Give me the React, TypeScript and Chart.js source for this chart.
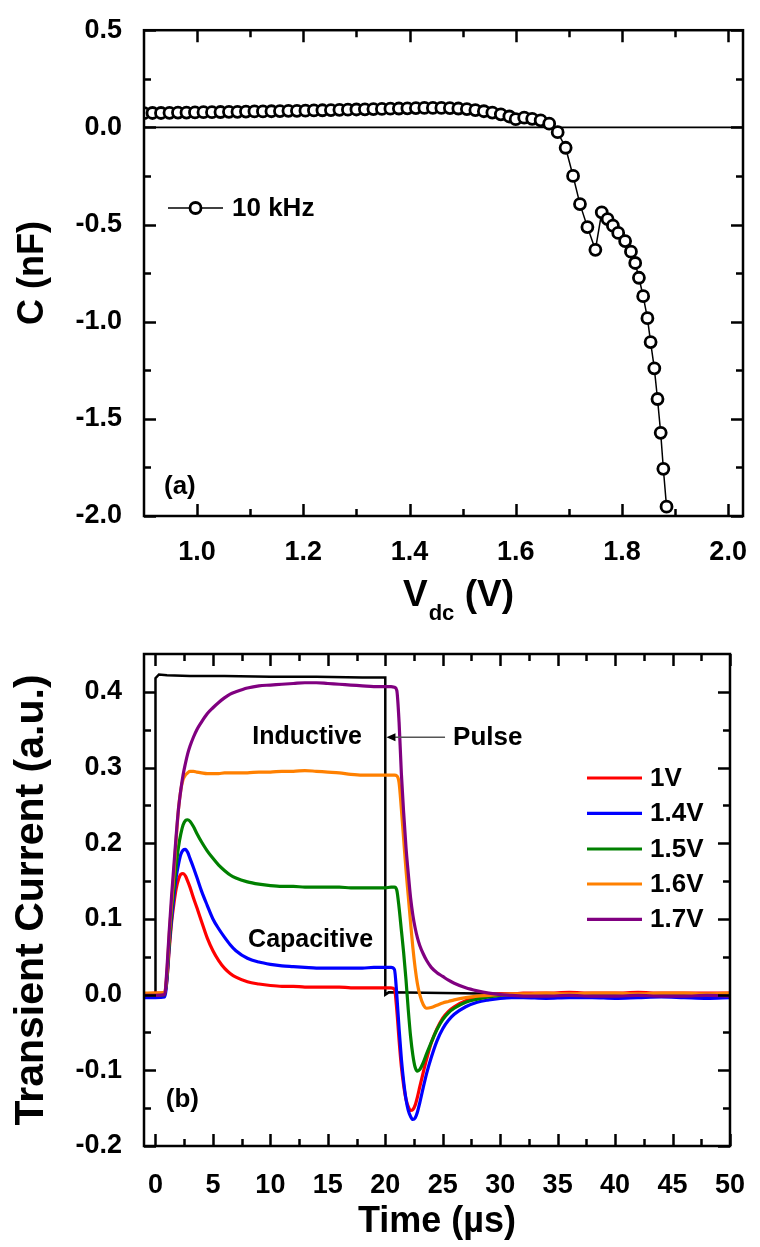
import React, { useEffect, useRef } from 'react';
import { Chart, registerables } from 'chart.js';
Chart.register(...registerables);

const FONT = "'Liberation Sans', Arial, Helvetica, sans-serif";

// ---------- Panel (a): C vs Vdc ----------
const VDC = [
  0.900, 0.916, 0.932, 0.948, 0.964, 0.980, 0.996, 1.012, 1.028, 1.044,
  1.060, 1.076, 1.092, 1.108, 1.124, 1.140, 1.156, 1.172, 1.188, 1.204,
  1.220, 1.236, 1.252, 1.268, 1.284, 1.300, 1.316, 1.332, 1.348, 1.364,
  1.380, 1.396, 1.412, 1.428, 1.444, 1.460, 1.476, 1.492, 1.508, 1.524,
  1.540, 1.556, 1.572, 1.588, 1.600, 1.616, 1.631, 1.647, 1.663, 1.679,
  1.694, 1.708, 1.721, 1.735, 1.750, 1.762, 1.773, 1.783, 1.793, 1.806,
  1.817, 1.825, 1.832, 1.840, 1.848, 1.854, 1.861, 1.867, 1.873, 1.878,
  1.884,
];
const CAP = [
  0.073, 0.074, 0.074, 0.075, 0.076, 0.076, 0.077, 0.078, 0.078, 0.079,
  0.080, 0.080, 0.081, 0.082, 0.082, 0.083, 0.084, 0.085, 0.085, 0.086,
  0.087, 0.088, 0.089, 0.090, 0.091, 0.092, 0.093, 0.094, 0.095, 0.096,
  0.097, 0.098, 0.099, 0.100, 0.100, 0.100, 0.099, 0.097, 0.094, 0.089,
  0.083, 0.076, 0.067, 0.056, 0.042, 0.050, 0.044, 0.036, 0.019, -0.025,
  -0.105, -0.25, -0.395, -0.513, -0.63, -0.437, -0.472, -0.506, -0.543, -0.585,
  -0.64, -0.698, -0.774, -0.869, -0.982, -1.105, -1.24, -1.398, -1.572, -1.757,
  -1.952,
];
const A_LABEL = '10 kHz';
const A_X_RANGE = [0.9, 2.028];
const A_Y_RANGE = [-2.0, 0.5];
const A_X_TICKS = [1.0, 1.2, 1.4, 1.6, 1.8, 2.0];
const A_X_MINOR = [1.1, 1.3, 1.5, 1.7, 1.9];
const A_Y_TICKS = [-2.0, -1.5, -1.0, -0.5, 0.0, 0.5];
const A_Y_MINOR = [-1.75, -1.25, -0.75, -0.25, 0.25];

// ---------- Panel (b): transient current ----------
const TIME = [
  -1, 0, 0.8, 1.0, 1.2, 1.4, 1.6, 1.8, 2.0, 2.2,
  2.4, 2.6, 2.8, 3.0, 3.3, 3.6, 4.0, 4.5, 5.0, 5.5,
  6.0, 6.5, 7.0, 8, 9, 10, 11, 12, 13, 14,
  15, 16, 17, 18, 19, 20, 20.5, 20.8, 21.0, 21.2,
  21.4, 21.6, 21.8, 22.0, 22.2, 22.4, 22.6, 22.8, 23.0, 23.3,
  23.6, 24.0, 24.5, 25, 25.5, 26, 27, 28, 29, 30,
  31, 32, 34, 36, 38, 40, 42, 44, 46, 48, 50,
];
const I_1V = [
  0.001, 0.002, 0.002, 0.02, 0.06, 0.095, 0.12, 0.14, 0.152, 0.159,
  0.16, 0.157, 0.15, 0.142, 0.128, 0.115, 0.097, 0.075, 0.058, 0.045,
  0.035, 0.028, 0.023, 0.017, 0.014, 0.012, 0.011, 0.011, 0.010, 0.010,
  0.010, 0.010, 0.009, 0.009, 0.009, 0.009, 0.009, 0.007, -0.02, -0.06,
  -0.095, -0.12, -0.138, -0.148, -0.153, -0.152, -0.146, -0.135, -0.122, -0.103,
  -0.085, -0.064, -0.045, -0.031, -0.022, -0.016, -0.008, -0.004, -0.001, 0.001,
  0.001, 0.002, 0.002, 0.003, 0.002, 0.002, 0.003, 0.002, 0.002, 0.002, 0.002,
];
const I_14V = [
  -0.004, -0.004, -0.003, 0.02, 0.065, 0.1, 0.13, 0.155, 0.172, 0.185,
  0.191, 0.192, 0.188, 0.18, 0.168, 0.155, 0.137, 0.118, 0.1, 0.087,
  0.076, 0.066, 0.058, 0.048, 0.043, 0.04, 0.038, 0.037, 0.036, 0.035,
  0.035, 0.035, 0.035, 0.035, 0.036, 0.036, 0.036, 0.033, 0.0, -0.045,
  -0.085, -0.115, -0.138, -0.153, -0.161, -0.165, -0.163, -0.155, -0.143, -0.123,
  -0.104, -0.083, -0.061, -0.045, -0.034, -0.026, -0.016, -0.010, -0.007, -0.005,
  -0.004, -0.004, -0.005, -0.004, -0.004, -0.005, -0.004, -0.003, -0.004, -0.005, -0.004,
];
const I_15V = [
  -0.001, -0.001, 0.0, 0.025, 0.07, 0.11, 0.14, 0.17, 0.195, 0.212,
  0.224, 0.23, 0.231, 0.229, 0.222, 0.213, 0.202, 0.19, 0.18, 0.171,
  0.164, 0.158, 0.154, 0.149, 0.146, 0.144, 0.143, 0.143, 0.142, 0.142,
  0.142, 0.142, 0.141, 0.141, 0.141, 0.141, 0.142, 0.142, 0.138, 0.115,
  0.085, 0.055, 0.02, -0.02, -0.055, -0.08, -0.096, -0.101, -0.099, -0.09,
  -0.078, -0.063, -0.046, -0.033, -0.024, -0.018, -0.010, -0.006, -0.003, -0.001,
  0.0, 0.0, -0.001, 0.0, -0.001, 0.0, -0.001, 0.0, -0.001, 0.0, -0.001,
];
const I_16V = [
  0.002, 0.002, 0.003, 0.03, 0.08, 0.12, 0.16, 0.205, 0.245, 0.27,
  0.284, 0.29, 0.293, 0.295, 0.295, 0.294, 0.293, 0.292, 0.292, 0.292,
  0.293, 0.293, 0.293, 0.293, 0.294, 0.294, 0.295, 0.295, 0.296, 0.295,
  0.294, 0.293, 0.291, 0.29, 0.29, 0.29, 0.29, 0.29, 0.289, 0.28,
  0.245, 0.205, 0.165, 0.13, 0.095, 0.062, 0.035, 0.014, 0.0, -0.013,
  -0.018, -0.017, -0.014, -0.011, -0.009, -0.007, -0.004, -0.002, -0.001, 0.0,
  0.001, 0.001, 0.002, 0.001, 0.002, 0.002, 0.001, 0.002, 0.002, 0.001, 0.002,
];
const I_17V = [
  -0.001, -0.001, 0.0, 0.035, 0.085, 0.13, 0.17, 0.21, 0.245, 0.27,
  0.29, 0.305, 0.318, 0.328, 0.34, 0.35, 0.36, 0.371, 0.379, 0.386,
  0.392, 0.397, 0.4, 0.405, 0.408, 0.409, 0.41, 0.411, 0.412, 0.412,
  0.411, 0.41, 0.409, 0.408, 0.407, 0.407, 0.407, 0.406, 0.402, 0.36,
  0.292, 0.24, 0.195, 0.16, 0.128, 0.105, 0.088, 0.075, 0.065, 0.054,
  0.045, 0.036, 0.029, 0.024, 0.019, 0.015, 0.009, 0.005, 0.002, 0.0,
  -0.001, -0.002, -0.002, -0.001, -0.002, -0.002, -0.001, -0.002, -0.002, -0.001, -0.002,
];
const SERIES = [I_1V, I_14V, I_15V, I_16V, I_17V];
const SERIES_LABELS = ['1V', '1.4V', '1.5V', '1.6V', '1.7V'];
const SERIES_COLORS = ['#ff0000', '#0000ff', '#008000', '#ff8000', '#800080'];
const PULSE_T = [-1, 0, 0, 0.3, 1, 3, 6, 10, 14, 18, 20, 20, 20.3, 25, 30, 40, 50];
const PULSE_V = [0, 0, 0.418, 0.423, 0.422, 0.421, 0.421, 0.42, 0.42, 0.419, 0.419, 0, 0.003, 0.002, 0.001, 0, 0];
const B_X_RANGE = [-1, 50];
const B_Y_RANGE = [-0.2, 0.45];
const B_X_TICKS = [0, 5, 10, 15, 20, 25, 30, 35, 40, 45, 50];
const B_X_MINOR = [2.5, 7.5, 12.5, 17.5, 22.5, 27.5, 32.5, 37.5, 42.5, 47.5];
const B_Y_TICKS = [-0.2, -0.1, 0.0, 0.1, 0.2, 0.3, 0.4];
const B_Y_MINOR = [-0.15, -0.05, 0.05, 0.15, 0.25, 0.35];

function makeFrame(xMajor: number[], xMinor: number[], yMajor: number[], yMinor: number[]) {
  return {
    id: 'frameTicks',
    afterDatasetsDraw(chart: any) {
      const { ctx, chartArea } = chart;
      const { left, right, top, bottom } = chartArea;
      const xs = chart.scales.x;
      const ys = chart.scales.y;
      ctx.save();
      ctx.strokeStyle = '#000';
      ctx.lineWidth = 2.5;
      ctx.beginPath();
      const vx = (vals: number[], len: number) => {
        for (const v of vals) {
          const p = Math.round(xs.getPixelForValue(v)) + 0.5;
          ctx.moveTo(p, bottom); ctx.lineTo(p, bottom - len);
          ctx.moveTo(p, top); ctx.lineTo(p, top + len);
        }
      };
      const vy = (vals: number[], len: number) => {
        for (const v of vals) {
          const p = Math.round(ys.getPixelForValue(v)) + 0.5;
          ctx.moveTo(left, p); ctx.lineTo(left + len, p);
          ctx.moveTo(right, p); ctx.lineTo(right - len, p);
        }
      };
      vx(xMajor, 12); vx(xMinor, 7); vy(yMajor, 12); vy(yMinor, 7);
      ctx.stroke();
      ctx.strokeRect(left, top, right - left, bottom - top);
      ctx.restore();
    },
  };
}

const annotA = {
  id: 'annotA',
  afterDraw(chart: any) {
    const { ctx } = chart;
    ctx.save();
    ctx.fillStyle = '#000';
    ctx.textBaseline = 'middle';
    // legend
    ctx.strokeStyle = '#000';
    ctx.lineWidth = 1.5;
    ctx.beginPath(); ctx.moveTo(168, 208); ctx.lineTo(223, 208); ctx.stroke();
    ctx.beginPath(); ctx.arc(195.5, 208, 5.5, 0, Math.PI * 2);
    ctx.fillStyle = '#fff'; ctx.fill(); ctx.lineWidth = 2.8; ctx.stroke();
    ctx.fillStyle = '#000';
    ctx.font = `bold 26px ${FONT}`;
    ctx.textAlign = 'left';
    ctx.fillText(A_LABEL, 232, 209);
    // (a)
    ctx.fillText('(a)', 164, 487);
    // x title V_dc (V)
    ctx.textBaseline = 'alphabetic';
    ctx.font = `bold 37px ${FONT}`;
    let x = 403;
    ctx.fillText('V', x, 606);
    x += ctx.measureText('V').width;
    ctx.font = `bold 22px ${FONT}`;
    ctx.fillText('dc', x + 1, 620);
    x += ctx.measureText('dc').width + 1;
    ctx.font = `bold 37px ${FONT}`;
    ctx.fillText(' (V)', x, 606);
    ctx.restore();
  },
};

const annotB = {
  id: 'annotB',
  afterDraw(chart: any) {
    const { ctx } = chart;
    const xs = chart.scales.x;
    const ys = chart.scales.y;
    ctx.save();
    ctx.fillStyle = '#000';
    ctx.textBaseline = 'middle';
    ctx.font = `bold 25px ${FONT}`;
    ctx.textAlign = 'center';
    ctx.fillText('Inductive', xs.getPixelForValue(13.2), ys.getPixelForValue(0.340));
    ctx.fillText('Capacitive', xs.getPixelForValue(13.5), ys.getPixelForValue(0.072));
    ctx.textAlign = 'left';
    ctx.font = `bold 26px ${FONT}`;
    ctx.fillText('Pulse', xs.getPixelForValue(25.9), ys.getPixelForValue(0.339));
    ctx.fillText('(b)', xs.getPixelForValue(0.9), ys.getPixelForValue(-0.139));
    // arrow
    const ay = ys.getPixelForValue(0.340);
    const tail = xs.getPixelForValue(25.2);
    const tip = xs.getPixelForValue(20.1);
    ctx.strokeStyle = '#555';
    ctx.lineWidth = 1.5;
    ctx.beginPath(); ctx.moveTo(tail, ay); ctx.lineTo(tip + 8, ay); ctx.stroke();
    ctx.fillStyle = '#000';
    ctx.beginPath(); ctx.moveTo(tip, ay); ctx.lineTo(tip + 9, ay - 4); ctx.lineTo(tip + 9, ay + 4); ctx.closePath(); ctx.fill();
    // legend
    const rows = [158, 193.3, 229, 264, 299.3];
    ctx.font = `bold 26px ${FONT}`;
    SERIES_LABELS.forEach((lab, i) => {
      ctx.strokeStyle = SERIES_COLORS[i];
      ctx.lineWidth = 3.2;
      ctx.beginPath(); ctx.moveTo(587, rows[i]); ctx.lineTo(642, rows[i]); ctx.stroke();
      ctx.fillStyle = '#000';
      ctx.fillText(lab, 650, rows[i] + 1);
    });
    ctx.restore();
  },
};

const tickFont = { family: FONT, size: 27, weight: 'bold' as const };

function configA(): any {
  return {
    type: 'line',
    data: {
      datasets: [
        {
          label: A_LABEL,
          data: VDC.map((x, i) => ({ x, y: CAP[i] })),
          borderColor: '#000', borderWidth: 1.5, tension: 0,
          pointRadius: 5.5, pointBorderWidth: 2.8,
          pointBackgroundColor: '#fff', pointBorderColor: '#000',
          order: 1,
        },
        {
          label: 'zero',
          data: A_X_RANGE.map((x) => ({ x, y: 0 })),
          borderColor: '#000', borderWidth: 1.6, pointRadius: 0, order: 2,
        },
      ],
    },
    options: {
      responsive: false, animation: false, events: [],
      layout: { padding: { top: 22, right: 17, left: 0, bottom: 0 }, autoPadding: false },
      plugins: { legend: { display: false }, tooltip: { enabled: false } },
      scales: {
        x: {
          type: 'linear', min: A_X_RANGE[0], max: A_X_RANGE[1],
          grid: { display: false }, border: { display: false },
          afterBuildTicks: (s: any) => { s.ticks = A_X_TICKS.map((v) => ({ value: v })); },
          afterFit: (s: any) => { s.height = 104; },
          ticks: { padding: 12, color: '#000', font: tickFont, maxRotation: 0, autoSkip: false,
            callback: (v: any) => Number(v).toFixed(1) },
        },
        y: {
          type: 'linear', min: A_Y_RANGE[0], max: A_Y_RANGE[1],
          grid: { display: false }, border: { display: false },
          afterBuildTicks: (s: any) => { s.ticks = A_Y_TICKS.map((v) => ({ value: v })); },
          afterFit: (s: any) => { s.width = 144; },
          ticks: { padding: 14, color: '#000', font: tickFont, autoSkip: false,
            callback: (v: any) => Number(v).toFixed(1) },
          title: { display: true, text: 'C (nF)', color: '#000',
            font: { family: FONT, size: 36, weight: 'bold' }, padding: { top: 11, bottom: 0 } },
        },
      },
    },
    plugins: [makeFrame(A_X_TICKS, A_X_MINOR, A_Y_TICKS, A_Y_MINOR), annotA],
  };
}

function configB(): any {
  const datasets: any[] = SERIES.map((vals, i) => ({
    label: SERIES_LABELS[i],
    data: TIME.map((t, j) => ({ x: t, y: vals[j] })),
    borderColor: SERIES_COLORS[i], borderWidth: 3.2, pointRadius: 0,
    cubicInterpolationMode: 'monotone',
    order: 5 - i,
  }));
  datasets.push({
    label: 'Pulse',
    data: PULSE_T.map((t, j) => ({ x: t, y: PULSE_V[j] })),
    borderColor: '#000', borderWidth: 2.5, pointRadius: 0, tension: 0, order: 10,
  });
  return {
    type: 'line',
    data: { datasets },
    options: {
      responsive: false, animation: false, events: [],
      layout: { padding: { top: 34, right: 17, left: 0, bottom: 0 }, autoPadding: false },
      plugins: { legend: { display: false }, tooltip: { enabled: false } },
      scales: {
        x: {
          type: 'linear', min: B_X_RANGE[0], max: B_X_RANGE[1],
          grid: { display: false }, border: { display: false },
          afterBuildTicks: (s: any) => { s.ticks = B_X_TICKS.map((v) => ({ value: v })); },
          afterFit: (s: any) => { s.height = 101; },
          ticks: { padding: 15, color: '#000', font: tickFont, maxRotation: 0, autoSkip: false,
            callback: (v: any) => String(Math.round(Number(v))) },
          title: { display: true, text: 'Time (µs)', color: '#000',
            font: { family: FONT, size: 36, weight: 'bold' }, padding: { top: 0, bottom: 3 } },
        },
        y: {
          type: 'linear', min: B_Y_RANGE[0], max: B_Y_RANGE[1],
          grid: { display: false }, border: { display: false },
          afterBuildTicks: (s: any) => { s.ticks = B_Y_TICKS.map((v) => ({ value: v })); },
          afterFit: (s: any) => { s.width = 144; },
          ticks: { padding: 14, color: '#000', font: tickFont, autoSkip: false,
            callback: (v: any) => Number(v).toFixed(1) },
          title: { display: true, text: 'Transient Current (a.u.)', color: '#000',
            font: { family: FONT, size: 41, weight: 'bold' }, padding: { top: 7, bottom: 0 } },
        },
      },
    },
    plugins: [makeFrame(B_X_TICKS, B_X_MINOR, B_Y_TICKS, B_Y_MINOR), annotB],
  };
}

export default function App() {
  const refA = useRef<HTMLCanvasElement>(null);
  const refB = useRef<HTMLCanvasElement>(null);
  useEffect(() => {
    const a = new Chart(refA.current as HTMLCanvasElement, configA());
    const b = new Chart(refB.current as HTMLCanvasElement, configB());
    return () => { a.destroy(); b.destroy(); };
  }, []);
  return (
    <div style={{ position: 'absolute', left: 0, top: 0, width: 760, height: 1247, background: '#fff' }}>
      <canvas ref={refA} width={760} height={620}
        style={{ position: 'absolute', left: 0, top: 0, width: 760, height: 620 }} />
      <canvas ref={refB} width={760} height={627}
        style={{ position: 'absolute', left: 0, top: 620, width: 760, height: 627 }} />
    </div>
  );
}
